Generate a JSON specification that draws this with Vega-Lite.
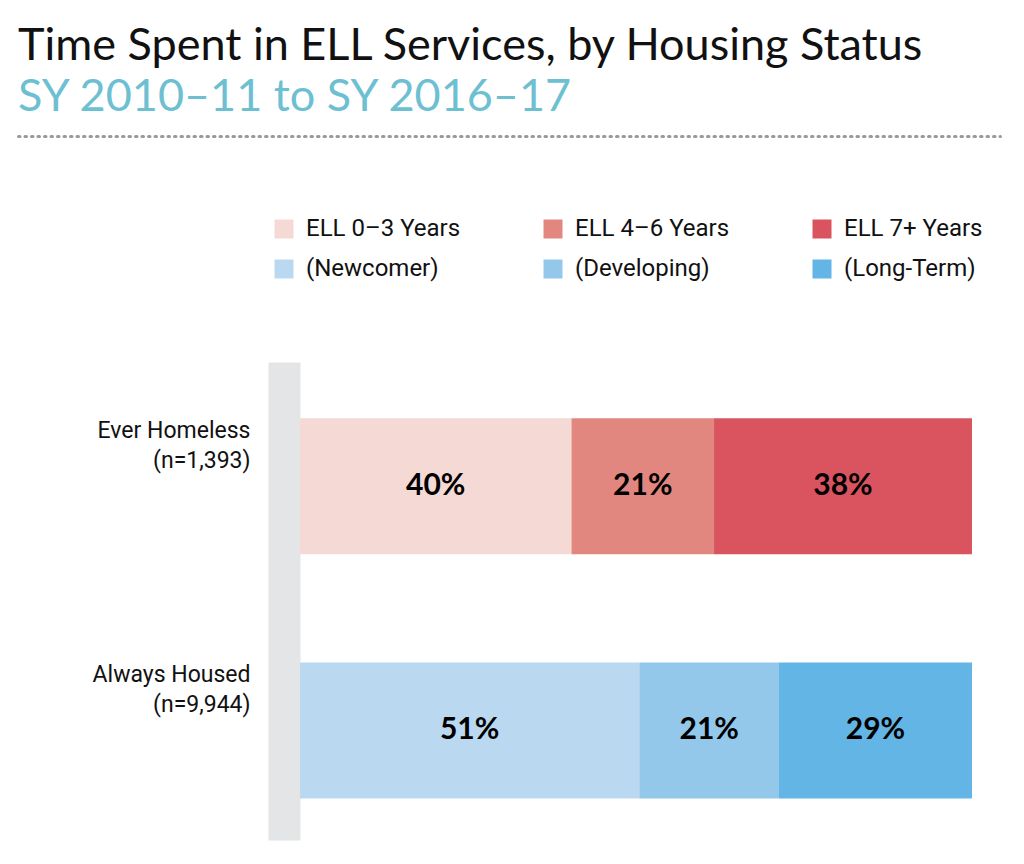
{
  "$schema": "https://vega.github.io/schema/vega-lite/v6.json",
  "width": 982,
  "height": 478,
  "autosize": {"type": "none"},
  "padding": {"left": 18, "top": 362, "right": 24, "bottom": 24},
  "background": "white",
  "title": {
    "text": "Time Spent in ELL Services, by Housing Status",
    "subtitle": "SY 2010–11 to SY 2016–17",
    "anchor": "start",
    "frame": "group",
    "font": "Lato",
    "fontSize": 45,
    "fontWeight": "normal",
    "color": "#111111",
    "subtitleFont": "Lato",
    "subtitleFontSize": 45,
    "subtitleColor": "#6DC0D2",
    "subtitlePadding": 6,
    "offset": 16
  },
  "config": {
    "view": {"stroke": null},
    "axis": {"labelFont": "Roboto", "titleFont": "Roboto"},
    "legend": {"labelFont": "Roboto"}
  },
  "data": {
    "values": [
      {"status": "Ever Homeless (n=1,393)", "group": "ELL 0–3 Years", "seg": 1, "pct": 0.40},
      {"status": "Ever Homeless (n=1,393)", "group": "ELL 4–6 Years", "seg": 2, "pct": 0.21},
      {"status": "Ever Homeless (n=1,393)", "group": "ELL 7+ Years", "seg": 3, "pct": 0.38},
      {"status": "Always Housed (n=9,944)", "group": "(Newcomer)", "seg": 1, "pct": 0.51},
      {"status": "Always Housed (n=9,944)", "group": "(Developing)", "seg": 2, "pct": 0.21},
      {"status": "Always Housed (n=9,944)", "group": "(Long-Term)", "seg": 3, "pct": 0.29}
    ]
  },
  "encoding": {
    "y": {
      "field": "status",
      "type": "nominal",
      "sort": ["Ever Homeless (n=1,393)", "Always Housed (n=9,944)"],
      "scale": {"paddingInner": 0.443, "paddingOuter": 0.2, "align": 0.575},
      "axis": {
        "title": null,
        "orient": "left",
        "offset": -266,
        "domain": true,
        "domainColor": "#E4E5E7",
        "domainWidth": 32,
        "ticks": false,
        "tickSize": 0,
        "grid": false,
        "labelPadding": 34,
        "labelAlign": "right",
        "labelBaseline": "top",
        "labelOffset": -66,
        "labelFontSize": 23,
        "labelLineHeight": 30,
        "labelColor": "#111111",
        "labelLimit": 300,
        "labelExpr": "[slice(datum.value, 0, indexof(datum.value, ' (')), slice(datum.value, indexof(datum.value, ' (') + 1)]"
      }
    },
    "x": {
      "field": "pct",
      "type": "quantitative",
      "stack": "normalize",
      "scale": {"domain": [-0.4196, 1.0417], "nice": false, "zero": false},
      "axis": {
        "orient": "top",
        "offset": 226,
        "title": null,
        "labels": false,
        "ticks": false,
        "grid": false,
        "domain": true,
        "domainColor": "#9A9A9A",
        "domainWidth": 3,
        "domainDash": [1.5, 5],
        "domainCap": "round"
      }
    },
    "order": {"field": "seg", "type": "quantitative"}
  },
  "layer": [
    {
      "mark": {"type": "bar", "cornerRadius": 0},
      "encoding": {
        "color": {
          "field": "group",
          "type": "nominal",
          "scale": {
            "domain": ["ELL 0–3 Years", "ELL 4–6 Years", "ELL 7+ Years", "(Newcomer)", "(Developing)", "(Long-Term)"],
            "range": ["#F5D9D4", "#E2877F", "#D9545E", "#BAD9F1", "#94C8EB", "#62B5E5"]
          },
          "legend": {
            "title": null,
            "orient": "none",
            "legendX": 254,
            "legendY": -145,
            "direction": "horizontal",
            "columns": 3,
            "columnPadding": 80,
            "rowPadding": 16,
            "gridAlign": "all",
            "symbolType": "square",
            "symbolSize": 361,
            "symbolStrokeWidth": 0,
            "labelFontSize": 24,
            "labelColor": "#111111",
            "labelOffset": 10,
            "labelLimit": 300,
            "padding": 0
          }
        }
      }
    },
    {
      "mark": {"type": "text", "font": "Lato", "fontWeight": "bold", "fontSize": 30, "color": "#000000", "baseline": "middle", "align": "center"},
      "encoding": {
        "x": {"field": "pct", "type": "quantitative", "stack": "normalize", "bandPosition": 0.5},
        "text": {"field": "pct", "type": "quantitative", "format": ".0%"}
      }
    }
  ]
}
